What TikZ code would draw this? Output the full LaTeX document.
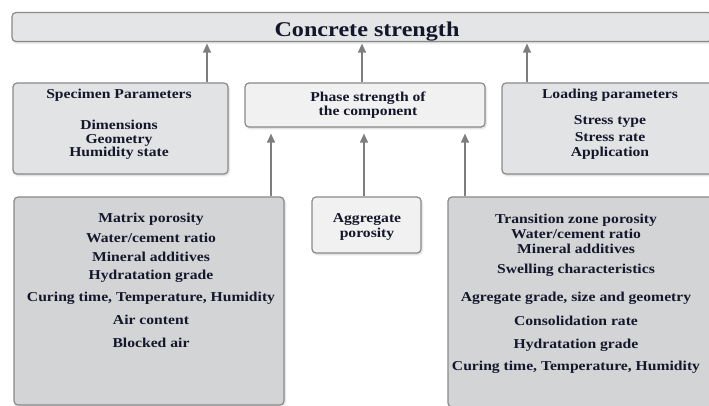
\documentclass[tikz,border=0pt]{standalone}
\usepackage{fontspec}
\setmainfont{Liberation Serif}[FakeStretch=1.15]
\usetikzlibrary{arrows.meta,shadows.blur}
\definecolor{boxline}{HTML}{8A8A8A}
\definecolor{arrline}{HTML}{7E7E7E}
\definecolor{ink}{HTML}{14172A}
\definecolor{fillhead}{HTML}{E4E5E7}
\definecolor{fillmid}{HTML}{E2E3E5}
\definecolor{filllight}{HTML}{F1F1F1}
\definecolor{filldark}{HTML}{D3D4D6}

\begin{document}
\begin{tikzpicture}[x=1pt,y=-1pt,
  box/.style={draw=boxline,line width=1.2pt,rounded corners=4pt,inner sep=0pt,
    blur shadow={shadow xshift=1pt,shadow yshift=-1.5pt,shadow blur steps=6,shadow opacity=18}},
  lbl/.style={inner sep=0pt,align=center,anchor=base,text=ink,
    font=\bfseries\fontsize{13.6}{20}\selectfont},
  arr/.style={-{Triangle[length=9pt,width=8pt]},draw=arrline,line width=1.2pt}]
\useasboundingbox (0,0) rectangle (709,406);
\clip (0,0) rectangle (709,406);

\begin{scope}[every node/.style={box}]
    \node[fill=fillhead,minimum width=700pt,minimum height=29pt] (conc) at (362,27) {};

    \node[fill=fillmid,minimum width=215pt,minimum height=91pt] (spec) at (120.5,128.5) {};
    \node[fill=filllight,minimum width=240pt,minimum height=44pt] (phase) at (365,105) {};
    \node[fill=fillmid,minimum width=214pt,minimum height=91pt] (load) at (609,128.5) {};

    \node[fill=filldark,minimum width=270pt,minimum height=208pt] (matrix) at (149,301) {};
    \node[fill=filllight,minimum width=109pt,minimum height=56pt] (aggr) at (366.5,225) {};
    \node[fill=filldark,minimum width=266pt,minimum height=210pt] (trans) at (581,302) {};
\end{scope}

% text nodes sit on the baseline of their last line
\node[lbl,font=\bfseries\fontsize{21}{24}\selectfont] (conct) at (367,37) {Concrete strength};

\node[lbl] (spect) at (119,157) {Specimen Parameters\\[11pt]
    Dimensions\\[-6pt] Geometry\\[-7pt] Humidity state};
\node[lbl] (phaset) at (368,116) {Phase strength of\\[-6pt] the component};
\node[lbl] (loadt) at (610,157) {Loading parameters\\[6pt]
    Stress type\\[-3pt] Stress rate\\[-5pt] Application};

\node[lbl] (matrixt) at (151,347) {Matrix porosity\\ Water/cement ratio\\[-1pt]
    Mineral additives\\[-2pt] Hydratation grade\\[2pt]
    Curing time, Temperature, Humidity\\[3pt] Air content\\[3pt] Blocked air};
\node[lbl] (aggrt) at (367,237) {Aggregate\\[-5pt] porosity};
\node[lbl] (transt) at (576,370) {Transition zone porosity\\[-5pt] Water/cement ratio\\[-5pt]
    Mineral additives\\ Swelling characteristics\\[8pt]
    Agregate grade, size and geometry\\[4pt] Consolidation rate\\[3pt]
    Hydratation grade\\[2pt] Curing time, Temperature, Humidity};

\begin{scope}[arr]
    \draw ([xshift=86.5pt]spec.north) -- ([xshift=86.5pt,yshift=-1.5pt]spec.north |- conc.south);
    \draw ([xshift=-3pt]phase.north) -- ([xshift=-3pt,yshift=-1.5pt]phase.north |- conc.south);
    \draw ([xshift=-82pt]load.north) -- ([xshift=-82pt,yshift=-1.5pt]load.north |- conc.south);

    \draw ([xshift=122pt]matrix.north) -- ([xshift=122pt,yshift=-6pt]matrix.north |- phase.south);
    \draw ([xshift=-2.5pt]aggr.north) -- ([xshift=-2.5pt,yshift=-6pt]aggr.north |- phase.south);
    \draw ([xshift=-116pt]trans.north) -- ([xshift=-116pt,yshift=-6pt]trans.north |- phase.south);
\end{scope}

\end{tikzpicture}
\end{document}
